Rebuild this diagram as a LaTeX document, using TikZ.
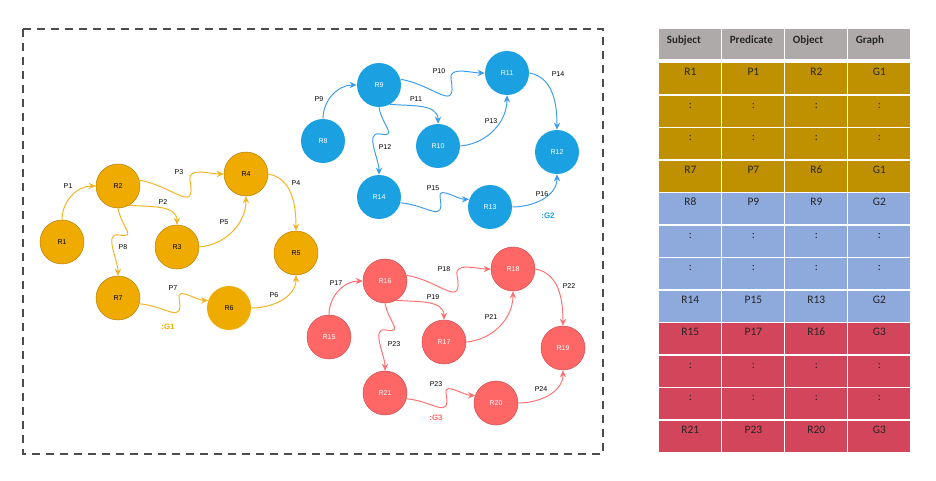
\documentclass[tikz,border=0pt]{standalone}
\usepackage{fontspec}
\setmainfont{Liberation Sans}
\newfontfamily\tablefont{Carlito}
\usetikzlibrary{arrows.meta}

\definecolor{yellowfill}{HTML}{F0AB00}
\definecolor{yellowline}{HTML}{B98300}
\definecolor{yellowedge}{HTML}{F2B322}
\definecolor{bluefill}{HTML}{1BA1E2}
\definecolor{blueedge}{HTML}{3C9CEB}
\definecolor{redfill}{HTML}{FF6666}
\definecolor{redline}{HTML}{D05050}
\definecolor{rededge}{HTML}{FF6F6F}
\definecolor{headgray}{HTML}{AEAAAA}
\definecolor{rowyellow}{HTML}{BF9000}
\definecolor{rowblue}{HTML}{8EA9DB}
\definecolor{rowred}{HTML}{D3455A}

\begin{document}
\begin{tikzpicture}
  [
    x = 0.02cm, y = -0.02cm,
    resource/.style = {circle, minimum size=0.88cm, inner sep=0pt,
                       font=\fontsize{4}{5}\selectfont},
    ynode/.style    = {resource, fill=yellowfill, draw=yellowline, line width=0.3pt},
    bnode/.style    = {resource, fill=bluefill, text=white},
    rnode/.style    = {resource, fill=redfill, draw=redline, line width=0.3pt, text=white},
    link/.style     = {line width=0.55pt, -{Stealth[length=4pt,width=3.6pt]}},
    yedge/.style    = {link, draw=yellowedge},
    bedge/.style    = {link, draw=blueedge},
    redge/.style    = {link, draw=rededge},
    plabel/.style   = {font=\fontsize{4}{5}\selectfont, inner sep=0pt},
    glabel/.style   = {font=\bfseries\fontsize{4.5}{5}\selectfont, inner sep=0pt},
    cell/.style     = {inner sep=0pt, minimum width=1.24cm, text height=0.25cm,
                       text depth=0.37cm, anchor=north west, text=black!85,
                       font=\tablefont\fontsize{6.5}{7}\selectfont},
    headcell/.style = {cell, fill=headgray, inner xsep=0.15cm, text width=0.94cm,
                       align=left, text height=0.28cm, text depth=0.32cm,
                       font=\tablefont\bfseries\fontsize{6.3}{7}\selectfont}
    ]
  \useasboundingbox (0,0) rectangle (936,480);

  % dashed frame round the three graphs
  \draw [gray!60!black, line width=0.7pt, dash pattern=on 0.16cm off 0.12cm]
    (23,29) rectangle (603,454);

  % graph G1
  \node [ynode] (R1) at (62,242)  {R1};
  \node [ynode] (R2) at (118,186) {R2};
  \node [ynode] (R3) at (177,247) {R3};
  \node [ynode] (R4) at (246,174) {R4};
  \node [ynode] (R5) at (296,253) {R5};
  \node [ynode, draw=none] (R6) at (229,308) {R6};
  \node [ynode] (R7) at (118,298) {R7};

  \draw [yedge] (R1.north) to[out=90,in=180] (R2.west);
  \draw [yedge] (R2.-60) to[out=-5,in=90] (R3.north);
  \draw [yedge] (R2.15) to[out=-10,in=-80,looseness=1.8] (190,180) to[out=100,in=180] (R4.west);
  \draw [yedge] (R3.east) to[out=5,in=-90] (R4.south);
  \draw [yedge] (R4.east) to[out=-10,in=90] (R5.north);
  \draw [yedge] (R6.east) to[out=0,in=-90] (R5.south);
  \draw [yedge] (R7.-15) to[out=-5,in=-80,looseness=1.8] (179,298) to[out=100,in=180] (R6.160);
  \draw [yedge] (R2.south) to[out=-80,in=-10,looseness=1.8] (119,235) to[out=170,in=90] (R7.north);

  \node [plabel] (lP1) at (68,186)  {P1};
  \node [plabel] (lP2) at (163,202) {P2};
  \node [plabel] (lP3) at (179,172) {P3};
  \node [plabel] (lP4) at (296,183) {P4};
  \node [plabel] (lP5) at (224,222) {P5};
  \node [plabel] (lP6) at (274,295) {P6};
  \node [plabel] (lP7) at (173,288) {P7};
  \node [plabel] (lP8) at (123,247) {P8};
  \node [glabel, text=yellowfill] (G1) at (168,327) {:G1};

  % graph G2
  \begin{scope}[shift={(261,-101)}]
    \node [bnode] (R8)  at (62,242)  {R8};
    \node [bnode] (R9)  at (118,186) {R9};
    \node [bnode] (R10) at (177,247) {R10};
    \node [bnode] (R11) at (246,174) {R11};
    \node [bnode] (R12) at (296,253) {R12};
    \node [bnode] (R13) at (229,308) {R13};
    \node [bnode] (R14) at (118,298) {R14};

    \draw [bedge] (R8.north) to[out=90,in=180] (R9.west);
    \draw [bedge] (R9.-60) to[out=-5,in=90] (R10.north);
    \draw [bedge] (R9.15) to[out=-10,in=-80,looseness=1.8] (190,180) to[out=100,in=180] (R11.west);
    \draw [bedge] (R10.east) to[out=5,in=-90] (R11.south);
    \draw [bedge] (R11.east) to[out=-10,in=90] (R12.north);
    \draw [bedge] (R13.east) to[out=0,in=-90] (R12.south);
    \draw [bedge] (R14.-15) to[out=-5,in=-80,looseness=1.8] (179,298) to[out=100,in=180] (R13.160);
    \draw [bedge] (R9.south) to[out=-80,in=-10,looseness=1.8] (119,235) to[out=170,in=90] (R14.north);

    \node [plabel] (lP9)  at (58,200)  {P9};
    \node [plabel] (lP10) at (178,172) {P10};
    \node [plabel] (lP11) at (155,200) {P11};
    \node [plabel] (lP12) at (124,248) {P12};
    \node [plabel] (lP13) at (230,222) {P13};
    \node [plabel] (lP14) at (297,175) {P14};
    \node [plabel] (lP15) at (172,289) {P15};
    \node [plabel] (lP16) at (281,295) {P16};
    \node [glabel, text=bluefill] (G2) at (287,317) {:G2};
  \end{scope}

  % graph G3
  \begin{scope}[shift={(267,95)}]
    \node [rnode] (R15) at (62,242)  {R15};
    \node [rnode] (R16) at (118,186) {R16};
    \node [rnode] (R17) at (177,247) {R17};
    \node [rnode] (R18) at (246,174) {R18};
    \node [rnode] (R19) at (296,253) {R19};
    \node [rnode] (R20) at (229,308) {R20};
    \node [rnode] (R21) at (118,298) {R21};

    \draw [redge] (R15.north) to[out=90,in=180] (R16.west);
    \draw [redge] (R16.-60) to[out=-5,in=90] (R17.north);
    \draw [redge] (R16.15) to[out=-10,in=-80,looseness=1.8] (190,180) to[out=100,in=180] (R18.west);
    \draw [redge] (R17.east) to[out=5,in=-90] (R18.south);
    \draw [redge] (R18.east) to[out=-10,in=90] (R19.north);
    \draw [redge] (R20.east) to[out=0,in=-90] (R19.south);
    \draw [redge] (R21.-15) to[out=-5,in=-80,looseness=1.8] (179,298) to[out=100,in=180] (R20.160);
    \draw [redge] (R16.south) to[out=-80,in=-10,looseness=1.8] (119,235) to[out=170,in=90] (R21.north);

    \node [plabel] (lP17)  at (69,188)  {P17};
    \node [plabel] (lP18)  at (177,174) {P18};
    \node [plabel] (lP19)  at (166,202) {P19};
    \node [plabel] (lP21)  at (224,222) {P21};
    \node [plabel] (lP22)  at (302,191) {P22};
    \node [plabel] (lP23a) at (127,249) {P23};
    \node [plabel] (lP23b) at (169,289) {P23};
    \node [plabel] (lP24)  at (274,294) {P24};
    \node [glabel, text=redfill] (G3) at (169,323) {:G3};
  \end{scope}

  % quad table
  \foreach \name [count=\k from 0] in {Subject,Predicate,Object,Graph}
    \node [headcell] (head-\k) at ({659+63*\k},29) {\name};
  \foreach \r/\rowc/\a/\b/\c/\d in {1/rowyellow/R1/P1/R2/G1, 2/rowyellow/:/:/:/:,
      3/rowyellow/:/:/:/:, 4/rowyellow/R7/P7/R6/G1, 5/rowblue/R8/P9/R9/G2,
      6/rowblue/:/:/:/:, 7/rowblue/:/:/:/:, 8/rowblue/R14/P15/R13/G2,
      9/rowred/R15/P17/R16/G3, 10/rowred/:/:/:/:, 11/rowred/:/:/:/:,
      12/rowred/R21/P23/R20/G3}
    \foreach \txt [count=\k from 0] in {\a,\b,\c,\d}
      \node [cell, fill=\rowc] (cell-\r-\k) at ({659+63*\k},{30.5+32.5*\r}) {\txt};
\end{tikzpicture}
\end{document}
